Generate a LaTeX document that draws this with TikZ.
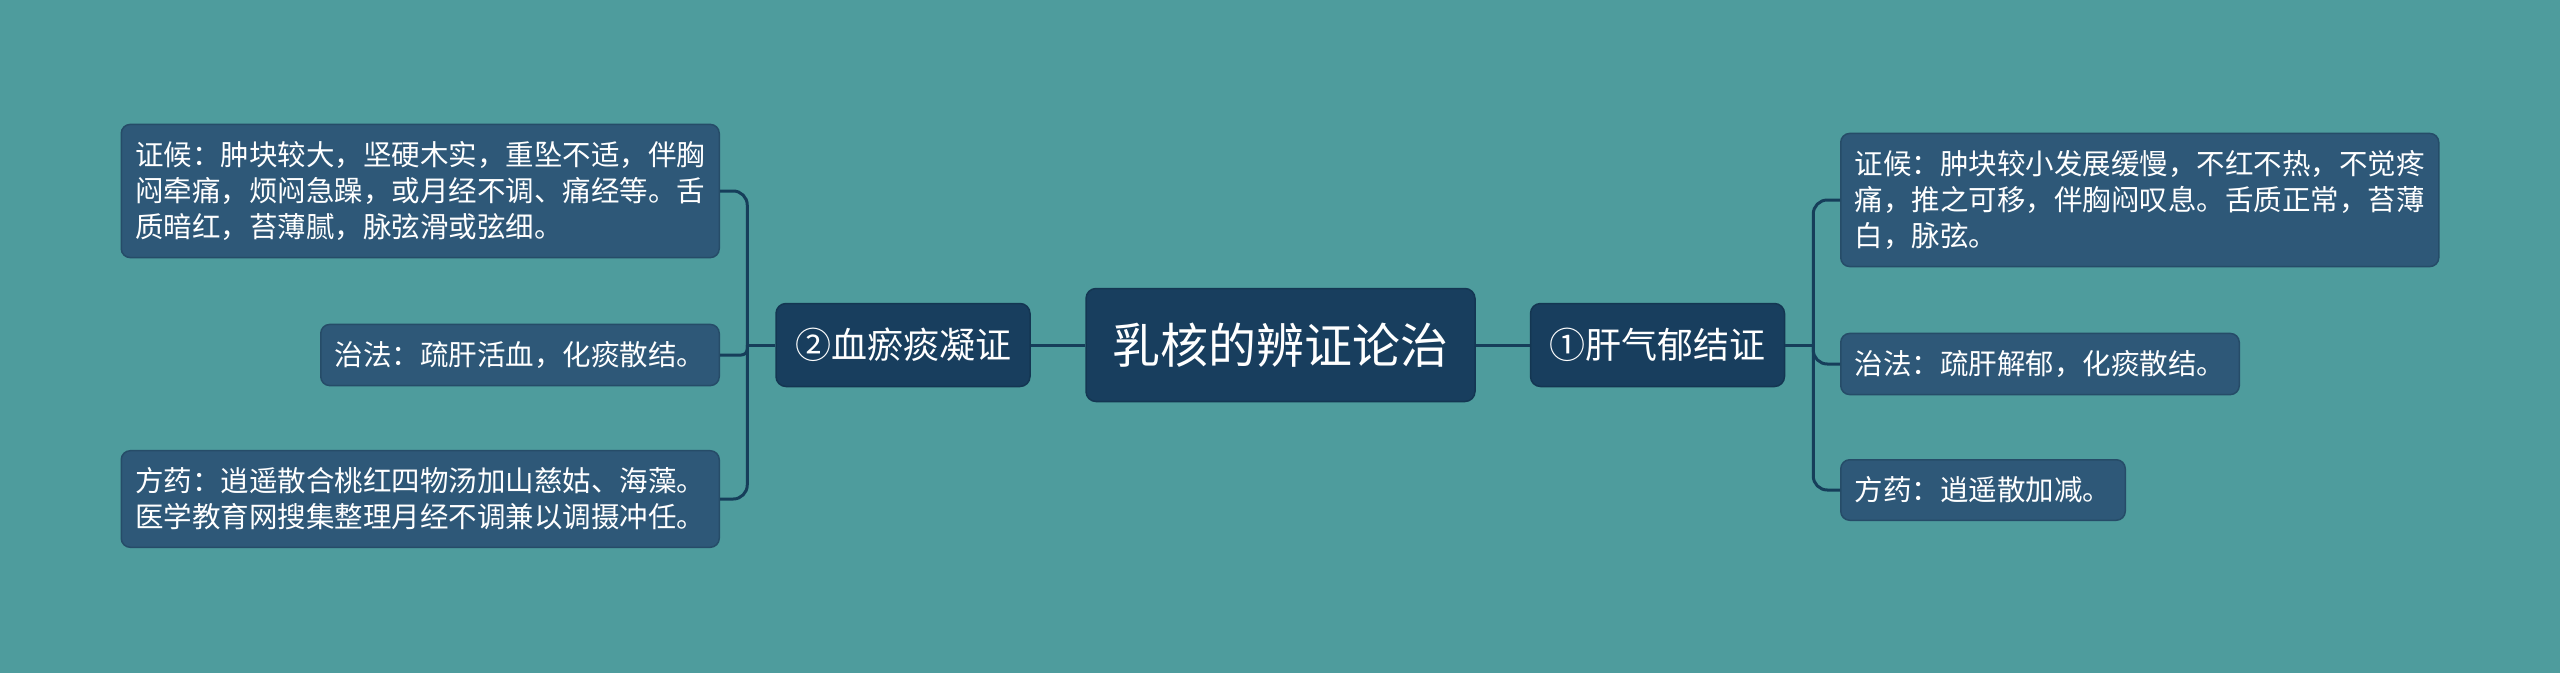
\documentclass[tikz,border=0pt]{standalone}
\usepackage{fontspec}
\newfontfamily\cjk{Noto Sans CJK SC}
\definecolor{bgteal}{RGB}{78,156,157}
\definecolor{leaffill}{RGB}{46,88,120}
\definecolor{leafedge}{RGB}{38,76,104}
\definecolor{mainfill}{RGB}{24,62,94}
\definecolor{mainedge}{RGB}{20,54,82}
\definecolor{linkcol}{RGB}{22,62,90}
\begin{document}
\begin{tikzpicture}[
    x=1pt, y=1pt,
    leaf/.style={
      rectangle,
      rounded corners=9pt,
      draw=leafedge,
      line width=1.5pt,
      fill=leaffill,
      text=white,
      align=left,
      inner xsep=14pt,
      inner ysep=17pt,
      font=\cjk\fontsize{28.5}{36}\selectfont
    },
    topic/.style={
      rectangle,
      rounded corners=10pt,
      draw=mainedge,
      line width=1.5pt,
      fill=mainfill,
      text=white,
      align=center,
      minimum width=254pt,
      minimum height=83pt,
      font=\cjk\fontsize{36}{40}\selectfont
    },
    root/.style={
      topic,
      minimum width=389pt,
      minimum height=113pt,
      font=\cjk\fontsize{48}{52}\selectfont
    },
    link/.style={
      draw=linkcol,
      line width=3pt
    }
  ]

    % Background
    \fill[bgteal] (0,0) rectangle (2560,-673);
    \useasboundingbox (0,0) rectangle (2560,-673);

    % Root and branches
    \node[root] (root) at (1280.5,-345) {乳核的辨证论治};
    \node[topic] (blood) at (903,-345) {②血瘀痰凝证};
    \node[topic] (liver) at (1657.5,-345) {①肝气郁结证};

    % Left leaves
    \node[leaf, anchor=east] (bsign) at (720,-191) {证候：肿块较大，坚硬木实，重坠不适，伴胸\\闷牵痛，烦闷急躁，或月经不调、痛经等。舌\\质暗红，苔薄腻，脉弦滑或弦细。};
    \node[leaf, anchor=east] (bcure) at (720,-355) {治法：疏肝活血，化痰散结。};
    \node[leaf, anchor=east] (bdrug) at (720,-499) {方药：逍遥散合桃红四物汤加山慈姑、海藻。\\医学教育网搜集整理月经不调兼以调摄冲任。};

    % Right leaves
    \node[leaf, anchor=west] (lsign) at (1840,-200) {证候：肿块较小发展缓慢，不红不热，不觉疼\\痛，推之可移，伴胸闷叹息。舌质正常，苔薄\\白，脉弦。};
    \node[leaf, anchor=west] (lcure) at (1840,-364) {治法：疏肝解郁，化痰散结。};
    \node[leaf, anchor=west] (ldrug) at (1840,-490) {方药：逍遥散加减。};

    % Root links
    \draw[link] (root.west) -- (blood.east);
    \draw[link] (root.east) -- (liver.west);

    % Left links
    \draw[link] (blood.west) -- ++(-28,0) coordinate (bjoint);
    \draw[link, rounded corners=14pt] (bjoint) |- (bsign.east);
    \draw[link, rounded corners=6pt] (bjoint) |- (bcure.east);
    \draw[link, rounded corners=14pt] (bjoint) |- (bdrug.east);

    % Right links
    \draw[link] (liver.east) -- ++(28,0) coordinate (ljoint);
    \draw[link, rounded corners=14pt] (ljoint) |- (lsign.west);
    \draw[link, rounded corners=14pt] (ljoint) |- (lcure.west);
    \draw[link, rounded corners=14pt] (ljoint) |- (ldrug.west);

  \end{tikzpicture}
\end{document}
